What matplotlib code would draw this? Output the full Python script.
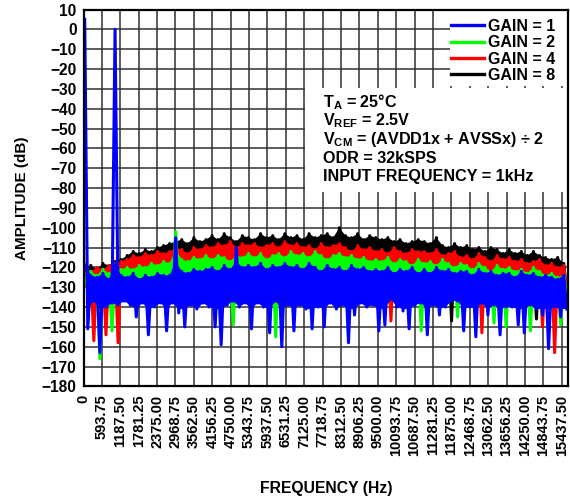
import numpy as np
import matplotlib
matplotlib.use('Agg')
import matplotlib.pyplot as plt
from matplotlib.patches import Rectangle

plt.rcParams['font.family'] = ['Liberation Sans', 'DejaVu Sans']
plt.rcParams['font.weight'] = 'bold'
plt.rcParams['mathtext.fontset'] = 'custom'
plt.rcParams['mathtext.rm'] = 'Liberation Sans:bold'
plt.rcParams['mathtext.bf'] = 'Liberation Sans:bold'
plt.rcParams['mathtext.it'] = 'Liberation Sans:bold'

# FFT bins (Hz)
freq = np.linspace(40, 15600, 160)

# Amplitude (dB), per gain setting
gain8 = [
    -120, -131, -119, -129, -121, -133, -118, -128, -119, -130, -117, -127, -116, -129,
    -114, -126, -112, -128, -113, -125, -111, -127, -112, -130, -110, -126, -109, -128,
    -108, -125, -107, -127, -106, -124, -108, -128, -105, -126, -107, -125, -106, -127,
    -104, -124, -106, -126, -103, -123, -105, -125, -107, -127, -104, -124, -105, -126,
    -106, -125, -103, -123, -105, -126, -104, -124, -106, -127, -103, -124, -105, -126,
    -104, -125, -106, -124, -103, -126, -105, -123, -104, -125, -103, -127, -105, -124,
    -100, -124, -104, -126, -105, -125, -103, -123, -106, -126, -104, -125, -105, -127,
    -106, -126, -105, -128, -107, -125, -106, -127, -108, -126, -107, -128, -106, -126,
    -107, -127, -108, -129, -105, -128, -109, -127, -110, -147, -108, -128, -110, -129,
    -109, -130, -111, -128, -110, -131, -112, -129, -110, -130, -111, -128, -113, -131,
    -111, -130, -113, -132, -112, -131, -114, -132, -112, -146, -114, -132, -115, -131,
    -116, -132, -115, -133, -118, -134,
]
gain4 = [
    -121, -132, -122, -157, -120, -131, -121, -154, -119, -130, -118, -158, -117, -131,
    -116, -130, -114, -132, -115, -129, -113, -131, -114, -132, -112, -130, -113, -131,
    -112, -130, -110, -131, -111, -129, -113, -132, -110, -130, -111, -131, -109, -130,
    -110, -131, -108, -129, -109, -132, -107, -130, -110, -131, -108, -129, -109, -132,
    -108, -130, -110, -131, -109, -129, -108, -132, -110, -130, -107, -131, -109, -130,
    -108, -131, -110, -130, -109, -132, -111, -129, -108, -131, -110, -130, -109, -132,
    -108, -130, -110, -131, -112, -130, -109, -132, -111, -131, -110, -130, -112, -131,
    -111, -131, -113, -147, -110, -130, -112, -132, -113, -131, -111, -130, -112, -132,
    -112, -131, -113, -133, -111, -130, -114, -132, -113, -131, -112, -133, -115, -131,
    -114, -132, -116, -130, -113, -153, -115, -131, -117, -132, -114, -131, -116, -133,
    -115, -132, -117, -131, -116, -133, -118, -132, -117, -131, -116, -150, -119, -132,
    -118, -163, -120, -133, -119, -132,
]
gain2 = [
    -123, -131, -122, -134, -124, -166, -121, -132, -123, -152, -122, -133, -121, -131,
    -120, -132, -121, -134, -119, -131, -120, -133, -118, -132, -119, -134, -117, -132,
    -118, -133, -102, -132, -116, -134, -117, -131, -115, -133, -116, -132, -114, -134,
    -116, -133, -114, -132, -115, -134, -117, -149, -114, -133, -115, -132, -113, -134,
    -115, -133, -113, -132, -116, -134, -114, -155, -113, -134, -115, -133, -112, -132,
    -114, -134, -113, -132, -115, -133, -112, -134, -114, -132, -116, -133, -114, -134,
    -113, -133, -115, -132, -114, -134, -116, -133, -115, -132, -117, -134, -116, -133,
    -117, -134, -115, -132, -118, -133, -116, -134, -117, -132, -119, -133, -116, -152,
    -118, -133, -117, -134, -119, -132, -116, -133, -118, -134, -120, -145, -118, -133,
    -119, -134, -121, -133, -118, -135, -120, -133, -122, -148, -119, -135, -121, -150,
    -120, -134, -122, -133, -121, -135, -123, -152, -120, -134, -122, -133, -124, -135,
    -123, -134, -125, -149, -124, -135,
]
gain1 = [
    5, -151, -124, -137, -125, -163, -123, -140, -126, -138, 0, -139, -124, -137,
    -125, -139, -123, -145, -126, -138, -124, -154, -125, -140, -123, -138, -124, -152,
    -124, -138, -105, -143, -122, -150, -123, -139, -121, -141, -122, -138, -121, -140,
    -120, -150, -122, -159, -119, -139, -121, -137, -110, -140, -120, -138, -119, -151,
    -120, -138, -118, -140, -121, -153, -119, -137, -120, -160, -118, -139, -120, -152,
    -119, -139, -121, -141, -118, -151, -120, -140, -122, -150, -119, -138, -121, -141,
    -120, -139, -122, -158, -119, -144, -121, -138, -120, -140, -122, -139, -121, -152,
    -122, -149, -120, -136, -123, -140, -121, -142, -122, -151, -120, -139, -123, -138,
    -121, -154, -123, -139, -120, -144, -122, -140, -121, -137, -123, -137, -122, -152,
    -122, -140, -124, -155, -121, -138, -123, -144, -122, -139, -124, -154, -123, -140,
    -123, -140, -125, -149, -122, -153, -124, -139, -123, -141, -125, -144, -124, -161,
    -125, -140, -126, -145, -124, -141,
]

labels = ["GAIN = 1", "GAIN = 2", "GAIN = 4", "GAIN = 8"]
colors = ["#0000ff", "#00ff00", "#ff0000", "#000000"]
xtick_vals = np.arange(27) * 593.75
ytick_vals = np.arange(-180, 11, 10)
info_lines = [
    r"T$_{\mathrm{A}}$ = 25°C",
    r"V$_{\mathrm{REF}}$ = 2.5V",
    r"V$_{\mathrm{CM}}$ = (AVDD1x + AVSSx) ÷ 2",
    "ODR = 32kSPS",
    "INPUT FREQUENCY = 1kHz",
]

W, H = 570, 501
L, R, T, B = 83.5, 568.0, 9.5, 386.4
fig = plt.figure(figsize=(W / 100, H / 100), dpi=100)
ax = fig.add_axes([L / W, 1 - B / H, (R - L) / W, (B - T) / H])

data = [gain1, gain2, gain4, gain8]
# solid-core limits (dB) for the filled noise band of each trace
caps = [-117, -111, 0, 0]
floors = [-141, -136, -134, -130]
handles = [None] * 4
for i in [3, 2, 1, 0]:
    y = np.asarray(data[i], float)
    ft, yt = freq[0::2], np.minimum(y[0::2], caps[i])
    fb, yb = freq[1::2], np.maximum(y[1::2], floors[i])
    ax.fill(np.r_[ft, fb[::-1]], np.r_[yt, yb[::-1]], color=colors[i], lw=0,
            zorder=2)
    ln, = ax.plot(freq, y, color=colors[i], lw=2.2, zorder=2,
                  solid_joinstyle='round')
    handles[i] = ln

ax.set_xlim(0, 15640)
ax.set_ylim(-180, 10)
ax.set_xticks(xtick_vals)
ax.set_xticklabels(["0"] + [f"{v:.2f}" for v in xtick_vals[1:]],
                   rotation=90, fontsize=10.5, fontweight='bold')
ax.set_yticks(ytick_vals)
ax.set_yticklabels([f"{v}".replace("-", "\u2212") for v in ytick_vals],
                   fontsize=11.2, fontweight='bold')
ax.tick_params(axis='x', length=0, pad=6)
ax.tick_params(axis='y', length=0, pad=5)
ax.grid(True, color='#303030', lw=1.1)
ax.set_axisbelow(True)
for s in ax.spines.values():
    s.set_linewidth(1.6)
    s.set_zorder(6)

ax.set_xlabel("FREQUENCY (Hz)", fontsize=11.3, fontweight='bold', labelpad=18)
ax.set_ylabel("AMPLITUDE (dB)", fontsize=11, fontweight='bold', labelpad=9)


def ax_x(px):
    return (px - L) / (R - L)


def ax_y(py):
    return (B - py) / (B - T)


# white backgrounds of legend and annotation
ax.add_patch(Rectangle((ax_x(450), ax_y(86)), 1 - ax_x(450), 1 - ax_y(86),
                       transform=ax.transAxes, fc='white', ec='none', zorder=4))
ax.add_patch(Rectangle((ax_x(305), ax_y(192)), 1 - ax_x(305), ax_y(88) - ax_y(192),
                       transform=ax.transAxes, fc='white', ec='none', zorder=4))

leg = ax.legend(handles, labels, loc='upper left',
                bbox_to_anchor=(ax_x(451), ax_y(19)), frameon=False,
                prop={'size': 11.5, 'weight': 'bold'}, borderpad=0, borderaxespad=0,
                handlelength=2.05, handletextpad=0.28, labelspacing=0.08)
leg.set_zorder(5)
for lh in leg.get_lines():
    lh.set_linewidth(2.4)

baselines = [107, 125.5, 144, 162.7, 181]
for txt, bl in zip(info_lines, baselines):
    ax.text(ax_x(323), ax_y(bl), txt, transform=ax.transAxes, fontsize=11.6,
            fontweight='bold', va='baseline', ha='left', zorder=5)

fig.savefig("out.png", dpi=100)
